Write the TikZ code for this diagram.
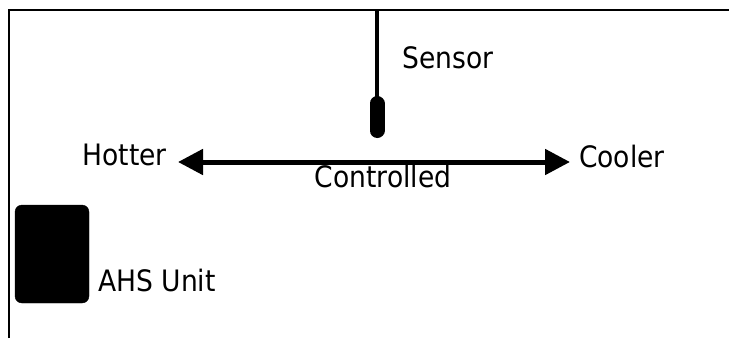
\documentclass[tikz,border=0pt]{standalone}
\usepackage{fontspec}
\setmainfont{DejaVu Sans}[FakeStretch=0.9]
\usetikzlibrary{arrows.meta}
\tikzset{label/.style={inner sep=0pt, font=\fontsize{29.5}{34}\selectfont},
         unit/.style={draw, fill=black, rounded corners=7pt, minimum width=74pt, minimum height=98pt},
         scale line/.style={line width=5pt, {Triangle[length=25pt,width=25pt]}-{Triangle[length=25pt,width=25pt]}}
}
\begin{document}
\begin{tikzpicture}[x=1pt,y=-1pt]
\useasboundingbox (0,0) rectangle (729,338);

% frame
\draw[line width=2.5pt] (9,338) -- (9,10) -- (729,10);

% sensor
\coordinate (top) at (377,10);
\coordinate (bulbtop) at (377,103.5);
\coordinate (bulbbot) at (377,130.5);
\draw[line width=4pt] (top) -- (bulbtop);
\draw[line width=15pt, line cap=round] (bulbtop) -- (bulbbot);
\node[label, anchor=base west] (sensor) at (402,68.3) {Sensor};

% temperature scale
\coordinate (hotend) at (178,162);
\coordinate (coolend) at (570,162);
\draw[scale line] (coolend) -- (hotend);
\node[label, anchor=base east] (hotter) at (167,165.5) {Hotter};
\node[label, anchor=base west] (cooler) at (579,167.5) {Cooler};
\node[label, anchor=base] (controlled) at (383,187) {Controlled};

% AHS unit
\node[unit] (ahs) at (52,254) {};
\node[label, anchor=base west] (ahslabel) at (98,291.7) {AHS Unit};

\end{tikzpicture}
\end{document}
